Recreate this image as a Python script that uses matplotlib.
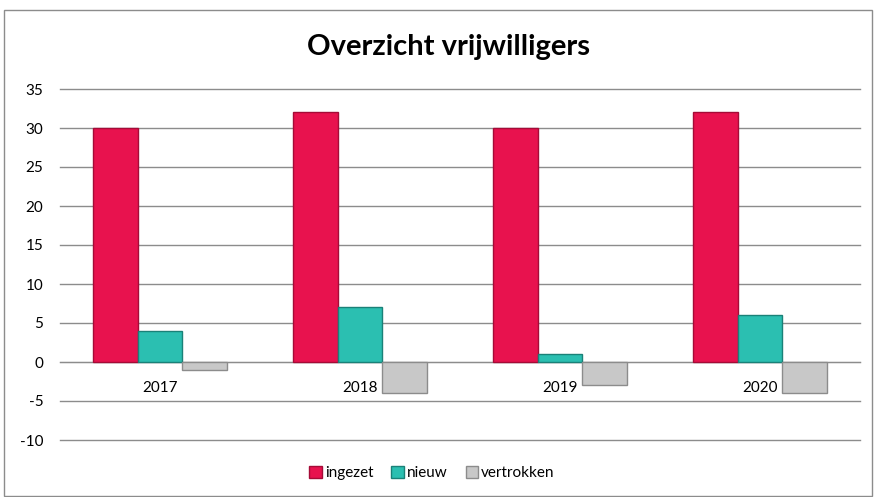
import matplotlib.pyplot as plt
import numpy as np
from matplotlib.patches import Rectangle

plt.rcParams['font.family'] = ['Lato', 'DejaVu Sans']
plt.rcParams['axes.unicode_minus'] = False

years = ['2017', '2018', '2019', '2020']
ingezet = [30, 32, 30, 32]
nieuw = [4, 7, 1, 6]
vertrokken = [-1, -4, -3, -4]

series = [('ingezet', ingezet, '#E8124E', '#A50B37'),
          ('nieuw', nieuw, '#2BBFB1', '#1A8178'),
          ('vertrokken', vertrokken, '#C8C8C8', '#8C8C8C')]

fig = plt.figure(figsize=(8.74, 4.97), dpi=100)
ax = fig.add_axes([60 / 874, 57 / 497, 800 / 874, 351 / 497])

x = np.arange(len(years))
w = 0.667 / 3
for i, (name, vals, col, edge) in enumerate(series):
    ax.bar(x + (i - 1) * w, vals, width=w, color=col, edgecolor=edge,
           linewidth=1, label=name, zorder=3)

ax.set_xlim(-0.5, len(years) - 0.5)
ax.set_ylim(-10, 35)
ax.set_yticks(range(-10, 36, 5))
ax.yaxis.grid(True, color='#8C8C8C', linewidth=1, zorder=0)
for gl in ax.get_ygridlines():
    gl.set_clip_on(False)
ax.set_axisbelow(True)
for s in ['left', 'right', 'top']:
    ax.spines[s].set_visible(False)
ax.spines['bottom'].set_position(('data', 0))
ax.spines['bottom'].set_color('#8C8C8C')
ax.set_xticks(x)
ax.set_xticklabels(years, fontsize=11)
ax.tick_params(axis='x', length=0, pad=14)
ax.tick_params(axis='y', length=0, labelsize=11, pad=12)

fig.text(449 / 874, 1 - 47 / 497, 'Overzicht vrijwilligers', ha='center',
         va='center', fontsize=21, fontweight='bold')

fig.legend(loc='center', bbox_to_anchor=(432 / 874, 1 - 473 / 497), ncol=3,
           frameon=False, fontsize=11, handlelength=0.8, handleheight=0.8,
           handletextpad=0.2, columnspacing=1.2)

fig.add_artist(Rectangle((4 / 874, 0.002), 868 / 874, 1 - 10 / 497 - 0.002,
                         transform=fig.transFigure, fill=False,
                         edgecolor='#8C8C8C', linewidth=1))

fig.savefig('out.png', dpi=100)
